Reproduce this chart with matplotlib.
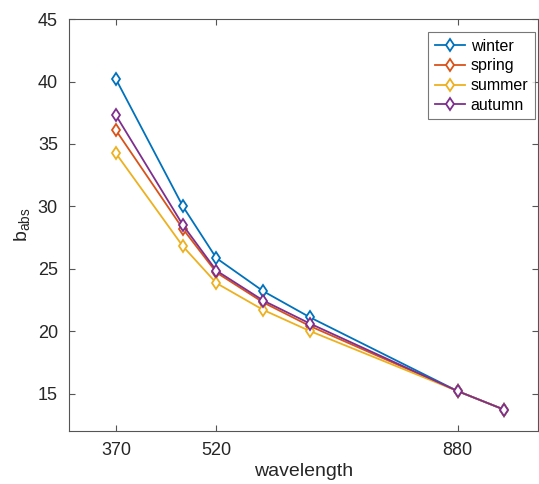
import matplotlib
matplotlib.use("Agg")
import matplotlib.pyplot as plt

plt.rcParams['font.family'] = ['Liberation Sans', 'DejaVu Sans']
plt.rcParams['mathtext.fontset'] = 'custom'
plt.rcParams['mathtext.rm'] = 'Liberation Sans'
plt.rcParams['mathtext.it'] = 'Liberation Sans'

wavelength = [370, 470, 520, 590, 660, 880, 950]
winter = [40.2, 30.0, 25.85, 23.2, 21.1, 15.2, 13.7]
spring = [36.1, 28.2, 24.7, 22.3, 20.4, 15.2, 13.7]
summer = [34.25, 26.8, 23.85, 21.7, 20.0, 15.2, 13.7]
autumn = [37.3, 28.5, 24.85, 22.45, 20.6, 15.2, 13.7]

seasons = ['winter', 'spring', 'summer', 'autumn']
colors = ['#0072BD', '#D95319', '#EDB120', '#7E2F8E']
xticks = [370, 520, 880]
yticks = [15, 20, 25, 30, 35, 40, 45]

fig = plt.figure(figsize=(5.39, 4.84), dpi=100)
ax = fig.add_axes([0.128, 0.1095, 0.87, 0.851])

for name, vals, c in zip(seasons, [winter, spring, summer, autumn], colors):
    ax.plot(wavelength, vals, '-d', color=c, lw=1.3, ms=6.5,
            mfc='white', mew=1.3, label=name)

ax.set_xlim(300, 1000)
ax.set_ylim(12, 45)
ax.set_xticks(xticks)
ax.set_yticks(yticks)
ax.tick_params(direction='in', top=True, right=True, length=4,
               labelsize=13, colors='#555555', labelcolor='#262626', pad=8)
for s in ax.spines.values():
    s.set_color('#555555')
    s.set_linewidth(0.8)

ax.set_xlabel('wavelength', fontsize=14, color='#262626', labelpad=3)
ax.set_ylabel(r'b$_{\mathrm{abs}}$', fontsize=14, color='#262626', labelpad=4)

leg = ax.legend(loc='upper right', bbox_to_anchor=(0.993, 0.968),
                fontsize=11.5, frameon=True, fancybox=False,
                handlelength=1.9, handletextpad=0.35, borderpad=0.4,
                labelspacing=0.3, borderaxespad=0)
leg.get_frame().set_edgecolor('#555555')
leg.get_frame().set_linewidth(0.8)

fig.savefig('out.png', dpi=100)
